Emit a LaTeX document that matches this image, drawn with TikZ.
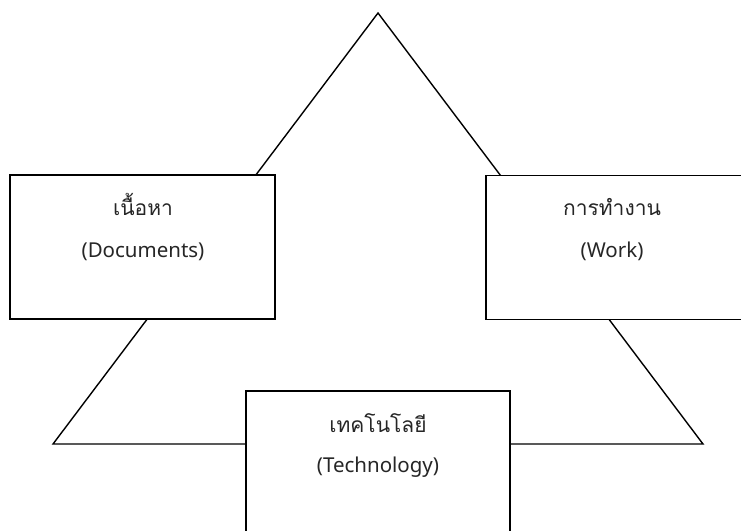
\documentclass[tikz,border=0pt]{standalone}
\usepackage{fontspec}
\setmainfont{Noto Sans}
\newfontfamily\thaifont[Script=Thai]{Loma}
\begin{document}
\begin{tikzpicture}[x=1pt,y=-1pt,
  line width=1.4pt,
  boxstyle/.style={draw=black,fill=white,rectangle,inner sep=0pt},
  thtext/.style={anchor=base,font=\thaifont\fontsize{21}{25}\selectfont,text=black!85},
  entext/.style={anchor=base,font=\fontsize{20.5}{24}\selectfont,text=black!85}]
\useasboundingbox (0,0) rectangle (741,530);
\clip (0,0) rectangle (741,530);
\coordinate (apex) at (378,13);
\coordinate (bl) at (53,444);
\coordinate (br) at (703,444);
\draw[line join=miter] (apex) -- (br) -- (bl) -- cycle;
\node[boxstyle,minimum width=265pt,minimum height=144pt] (docs) at (142.5,247) {};
\node[boxstyle,minimum width=265pt,minimum height=144pt] (work) at (618.5,247.5) {};
\node[boxstyle,minimum width=264pt,minimum height=150pt] (tech) at (378,466) {};
\node[thtext] (docsth) at (143,215) {เนื้อหา};
\node[entext] (docsen) at (143,257) {(Documents)};
\node[thtext] (workth) at (612,215) {การทำงาน};
\node[entext] (worken) at (612,257) {(Work)};
\node[thtext] (techth) at (378,432) {เทคโนโลยี};
\node[entext] (techen) at (378,472) {(Technology)};
\end{tikzpicture}
\end{document}
